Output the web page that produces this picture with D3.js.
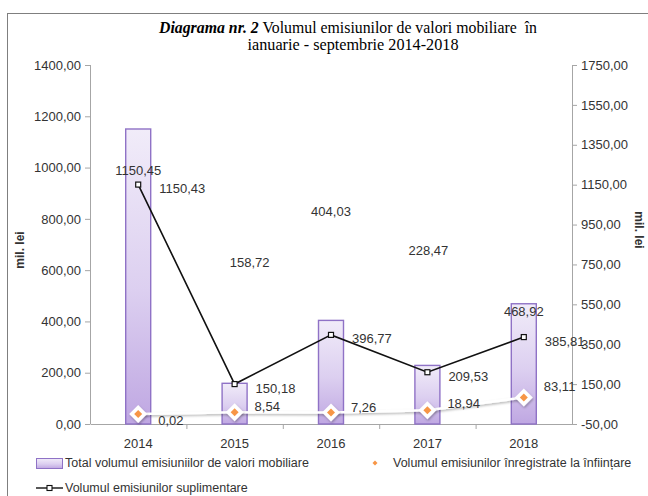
<!DOCTYPE html>
<html>
<head>
<meta charset="utf-8">
<script src="https://cdn.jsdelivr.net/npm/d3@7"></script>
<style>
  body { margin: 0; background: #fff; }
  svg { display: block; }
  text { font-family: "Liberation Sans", Arial, sans-serif; fill: #333; }
</style>
</head>
<body>
<div id="chart"></div>
<script>
// data
const years = ["2014", "2015", "2016", "2017", "2018"];
const totalValues = [1150.45, 158.72, 404.03, 228.47, 468.92];      // bars, left axis
const suplimValues = [1150.43, 150.18, 396.77, 209.53, 385.81];     // black line, right axis
const infiintareValues = [0.02, 8.54, 7.26, 18.94, 83.11];          // orange diamonds, right axis
const leftTicks = [0, 200, 400, 600, 800, 1000, 1200, 1400];
const rightTicks = [-50, 150, 350, 550, 750, 950, 1150, 1350, 1550, 1750];
const legendLabels = [
  "Total volumul emisiuniilor de valori mobiliare",
  "Volumul emisiunilor înregistrate la înființare",
  "Volumul emisiunilor suplimentare"
];

/* chart sizes */
const width = 648, height = 496;
const plot = {left: 90, right: 572, top: 65, bottom: 424};
// Excel style: comma decimals, plain hyphen for negatives
const fmt = v => d3.format(".2f")(v).replace(".", ",").replace("\u2212", "-");

const svg = d3.select("#chart").append("svg")
  .attr("width", width)
  .attr("height", height);

const defs = svg.append("defs");
const grad = defs.append("linearGradient")
  .attr("id", "barGrad")
  .attr("x1", 0).attr("y1", 0).attr("x2", 0).attr("y2", 1);
grad.append("stop").attr("offset", "0%").attr("stop-color", "#f1ecf9");
grad.append("stop").attr("offset", "55%").attr("stop-color", "#dccff0");
grad.append("stop").attr("offset", "100%").attr("stop-color", "#bfa7e2");

const shadow = defs.append("filter").attr("id", "shadow")
  .attr("x", "-50%").attr("y", "-50%").attr("width", "200%").attr("height", "200%");
shadow.append("feDropShadow")
  .attr("dx", 0.8).attr("dy", 1.5).attr("stdDeviation", 1.2)
  .attr("flood-color", "#000").attr("flood-opacity", 0.3);

/* outer frame */
svg.append("rect")
  .attr("x", 7.5).attr("y", 13.5)
  .attr("width", 700).attr("height", 600)
  .attr("fill", "none")
  .attr("stroke", "#7f7f7f");

/* title (the original font is a narrow Times, squeeze it to the same width) */
const title = svg.append("text")
  .attr("x", 348).attr("y", 33)
  .attr("text-anchor", "middle")
  .attr("textLength", 378)
  .attr("lengthAdjust", "spacingAndGlyphs")
  .style("font-family", "'Liberation Serif', 'Times New Roman', serif")
  .style("font-size", "17px")
  .style("fill", "#000");
title.append("tspan").style("font-weight", "bold").style("font-style", "italic").text("Diagrama nr. 2");
title.append("tspan").text(" Volumul emisiunilor de valori mobiliare\u00a0 în");
svg.append("text")
  .attr("x", 353).attr("y", 50)
  .attr("text-anchor", "middle")
  .attr("textLength", 211)
  .attr("lengthAdjust", "spacingAndGlyphs")
  .style("font-family", "'Liberation Serif', 'Times New Roman', serif")
  .style("font-size", "17px")
  .style("fill", "#000")
  .text("ianuarie - septembrie 2014-2018");

/* scales */
const x = d3.scaleBand()
  .domain(years)
  .range([plot.left, plot.right])
  .padding(0);
const yL = d3.scaleLinear().domain([0, 1400]).range([plot.bottom, plot.top]);
const yR = d3.scaleLinear().domain([-50, 1750]).range([plot.bottom, plot.top]);
const cx = d => x(d) + x.bandwidth() / 2;
const barW = 25;

/* axes */
const axisColor = "#a6a6a6";
const gL = svg.append("g")
  .attr("transform", `translate(${plot.left},0)`)
  .call(d3.axisLeft(yL).tickValues(leftTicks).tickFormat(fmt).tickSize(5).tickPadding(4));
const gR = svg.append("g")
  .attr("transform", `translate(${plot.right},0)`)
  .call(d3.axisRight(yR).tickValues(rightTicks).tickFormat(fmt).tickSize(5).tickPadding(4));
[gL, gR].forEach(g => {
  g.select(".domain").remove();
  g.selectAll(".tick line").attr("stroke", axisColor);
  g.selectAll(".tick text").style("font-size", "13px").style("font-family", "'Liberation Sans', Arial, sans-serif").attr("fill", "#333");
});
svg.append("line")
  .attr("x1", plot.left + 0.5).attr("x2", plot.left + 0.5)
  .attr("y1", plot.top).attr("y2", plot.bottom)
  .attr("stroke", axisColor);
svg.append("line")
  .attr("x1", plot.right + 0.5).attr("x2", plot.right + 0.5)
  .attr("y1", plot.top).attr("y2", plot.bottom)
  .attr("stroke", axisColor);

const gX = svg.append("g")
  .attr("transform", `translate(0,${plot.bottom})`)
  .call(d3.axisBottom(x).tickSize(0).tickPadding(15));
gX.select(".domain").attr("stroke", axisColor);
gX.selectAll(".tick text").style("font-size", "13px").attr("fill", "#333");
gX.selectAll(".sep")
  .data(years.slice(1))
  .enter().append("line")
  .attr("x1", d => x(d) + 0.5).attr("x2", d => x(d) + 0.5)
  .attr("y1", 0).attr("y2", 5)
  .attr("stroke", axisColor);

/* axis titles */
svg.append("text")
  .attr("transform", "translate(24,250) rotate(-90)")
  .attr("text-anchor", "middle")
  .style("font-size", "12px").style("font-weight", "bold")
  .text("mil. lei");
svg.append("text")
  .attr("transform", "translate(635,230) rotate(90)")
  .attr("text-anchor", "middle")
  .style("font-size", "12px").style("font-weight", "bold")
  .text("mil. lei");

/* bars */
svg.selectAll(".bar")
  .data(totalValues)
  .enter().append("rect")
  .attr("class", "bar")
  .attr("x", (d, i) => cx(years[i]) - barW / 2)
  .attr("y", d => yL(d))
  .attr("width", barW)
  .attr("height", d => plot.bottom - yL(d))
  .attr("fill", "url(#barGrad)")
  .attr("stroke", "#8f72c6")
  .attr("stroke-width", 1.4);

/* white line + diamonds (infiintare) */
const lineInf = d3.line()
  .x((d, i) => cx(years[i]))
  .y(d => yR(d));
svg.append("path")
  .datum(infiintareValues)
  .attr("d", lineInf)
  .attr("fill", "none")
  .attr("stroke", "#fff")
  .attr("stroke-width", 2.5)
  .attr("filter", "url(#shadow)");
const diamond = (s) => `M0,${-s}L${s},0L0,${s}L${-s},0Z`;
const dia = svg.selectAll(".dia")
  .data(infiintareValues)
  .enter().append("g")
  .attr("transform", (d, i) => `translate(${cx(years[i])},${yR(d)})`);
dia.append("path").attr("d", diamond(9)).attr("fill", "#fff").attr("filter", "url(#shadow)");
dia.append("path").attr("d", diamond(4)).attr("fill", "#f79646");

/* black line (suplimentare) */
const lineSup = d3.line()
  .x((d, i) => cx(years[i]))
  .y(d => yR(d));
svg.append("path")
  .datum(suplimValues)
  .attr("d", lineSup)
  .attr("fill", "none")
  .attr("stroke", "#111")
  .attr("stroke-width", 1.6);
svg.selectAll(".sq")
  .data(suplimValues)
  .enter().append("rect")
  .attr("x", (d, i) => cx(years[i]) - 2.5)
  .attr("y", d => yR(d) - 2.5)
  .attr("width", 5).attr("height", 5)
  .attr("fill", "#fff")
  .attr("stroke", "#111")
  .attr("stroke-width", 1.2);

/* data labels */
const labelSize = "13px";
// bar labels were moved around by hand in the original
const barLabelDx = [0, 15, 0, 1, 0];
const barLabelDy = [41, -121, -109, -115, 8];
svg.selectAll(".barLab")
  .data(totalValues)
  .enter().append("text")
  .attr("x", (d, i) => cx(years[i]) + barLabelDx[i])
  .attr("y", (d, i) => yL(d) + barLabelDy[i])
  .attr("dy", "0.35em")
  .attr("text-anchor", "middle")
  .style("font-size", labelSize)
  .text(fmt);

svg.selectAll(".supLab")
  .data(suplimValues)
  .enter().append("text")
  .attr("x", (d, i) => cx(years[i]) + 21)
  .attr("y", d => yR(d) + 4)
  .attr("dy", "0.35em")
  .style("font-size", labelSize)
  .text(fmt);

const infLabelDy = [6, -6, -5, -7, -11];
svg.selectAll(".infLab")
  .data(infiintareValues)
  .enter().append("text")
  .attr("x", (d, i) => cx(years[i]) + 20)
  .attr("y", (d, i) => yR(d) + infLabelDy[i])
  .attr("dy", "0.35em")
  .style("font-size", labelSize)
  .text(fmt);

/* legend */
const leg = svg.append("g").style("font-size", "12.5px");
leg.append("rect")
  .attr("x", 36.5).attr("y", 458.5).attr("width", 26).attr("height", 10)
  .attr("fill", "url(#barGrad)").attr("stroke", "#8f72c6");
leg.append("text").attr("x", 65).attr("y", 463).attr("dy", "0.35em").text(legendLabels[0]);

leg.append("path").attr("d", diamond(2.5))
  .attr("transform", "translate(375,463)")
  .attr("fill", "#f79646");
leg.append("text").attr("x", 393).attr("y", 463).attr("dy", "0.35em").text(legendLabels[1]);

leg.append("line")
  .attr("x1", 36).attr("x2", 63).attr("y1", 488).attr("y2", 488)
  .attr("stroke", "#111").attr("stroke-width", 1.4);
leg.append("rect")
  .attr("x", 47).attr("y", 485.5).attr("width", 5).attr("height", 5)
  .attr("fill", "#fff").attr("stroke", "#111").attr("stroke-width", 1.1);
leg.append("text").attr("x", 65).attr("y", 488).attr("dy", "0.35em").text(legendLabels[2]);
</script>
</body>
</html>
